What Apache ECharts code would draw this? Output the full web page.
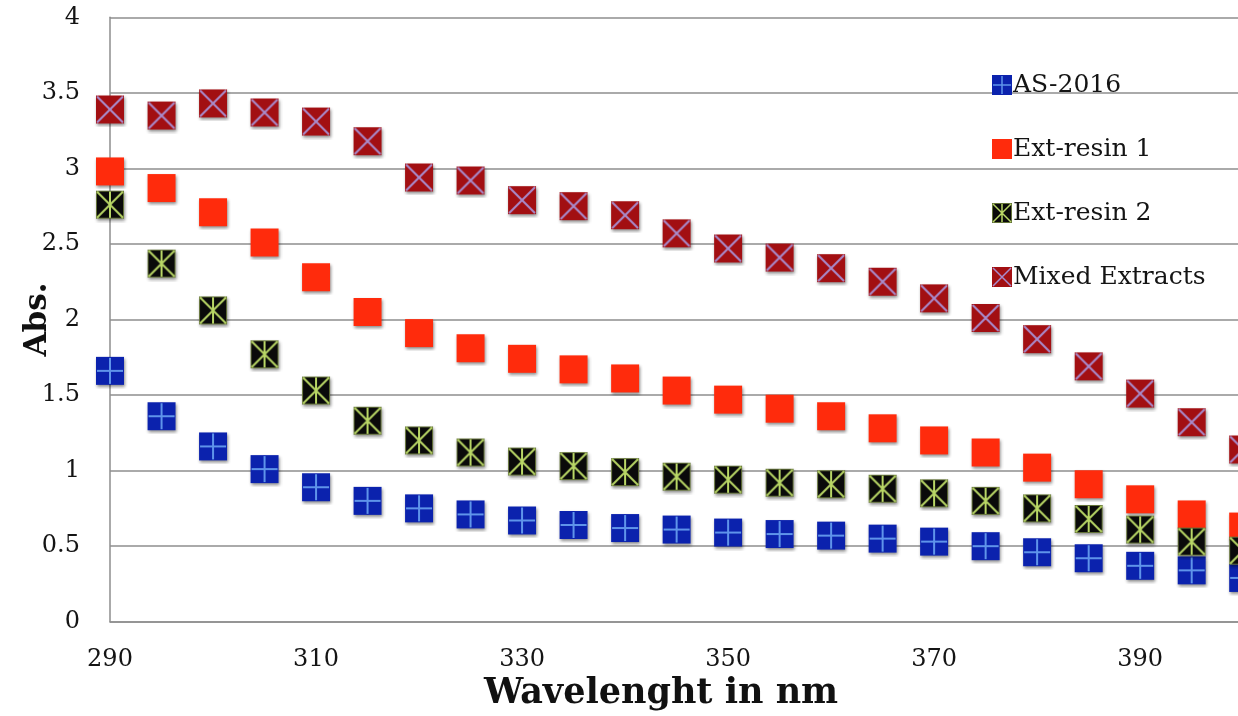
<!DOCTYPE html>
<html>
<head>
<meta charset="utf-8">
<script src="https://cdn.jsdelivr.net/npm/echarts@6/dist/echarts.min.js"></script>
<style>
  html, body { margin: 0; padding: 0; background: #fff; }
  #main { width: 1238px; height: 716px; }
</style>
</head>
<body>
<div id="main"></div>
<script>
var wavelengths = [290, 295, 300, 305, 310, 315, 320, 325, 330, 335, 340, 345,
  350, 355, 360, 365, 370, 375, 380, 385, 390, 395, 400];

var as2016 = [1.66, 1.36, 1.16, 1.01, 0.89, 0.80, 0.75, 0.71, 0.67, 0.64, 0.62, 0.61,
  0.59, 0.58, 0.57, 0.55, 0.53, 0.50, 0.46, 0.42, 0.37, 0.34, 0.29];
var extResin1 = [2.98, 2.87, 2.71, 2.51, 2.28, 2.05, 1.91, 1.81, 1.74, 1.67, 1.61, 1.53,
  1.47, 1.41, 1.36, 1.28, 1.20, 1.12, 1.02, 0.91, 0.81, 0.71, 0.63];
var extResin2 = [2.76, 2.37, 2.06, 1.77, 1.53, 1.33, 1.20, 1.12, 1.06, 1.03, 0.99, 0.96,
  0.94, 0.92, 0.91, 0.88, 0.85, 0.80, 0.75, 0.68, 0.61, 0.53, 0.47];
var mixed = [3.39, 3.35, 3.43, 3.37, 3.31, 3.18, 2.94, 2.92, 2.79, 2.75, 2.69, 2.57,
  2.47, 2.41, 2.34, 2.25, 2.14, 2.01, 1.87, 1.69, 1.51, 1.32, 1.14];

var seriesNames = ['AS-2016', 'Ext-resin 1', 'Ext-resin 2', 'Mixed Extracts'];
var seriesData = [as2016, extResin1, extResin2, mixed];

// marker looks: fill colour, pattern, pattern colour
var markerLooks = [
  { fill: '#0b22ad', kind: 'plus', line: '#5f94ea' },
  { fill: '#ff2b0c', kind: 'none', line: null },
  { fill: '#0a0a0a', kind: 'star', line: '#b9d766' },
  { fill: '#a20f12', kind: 'cross', line: '#a98ccd' }
];

// draws one marker on a small canvas and returns it as an image symbol
function makeMarker(look, sq, pad, shadow) {
  var c = document.createElement('canvas');
  var s = sq + pad * 2;
  c.width = s; c.height = s;
  var ctx = c.getContext('2d');
  if (shadow) {
    ctx.shadowColor = 'rgba(0,0,0,0.45)';
    ctx.shadowBlur = 3;
    ctx.shadowOffsetX = 1;
    ctx.shadowOffsetY = 2;
  }
  ctx.fillStyle = look.fill;
  ctx.fillRect(pad, pad, sq, sq);
  ctx.shadowColor = 'transparent';
  var x0 = pad, y0 = pad, x1 = pad + sq, y1 = pad + sq;
  var cx = pad + sq / 2, cy = pad + sq / 2;
  ctx.strokeStyle = look.line;
  ctx.lineWidth = sq > 24 ? 2 : 1.5;
  ctx.beginPath();
  if (look.kind === 'plus') {
    ctx.moveTo(cx, y0 + 1); ctx.lineTo(cx, y1 - 1);
    ctx.moveTo(x0 + 1, cy); ctx.lineTo(x1 - 1, cy);
  } else if (look.kind === 'cross') {
    ctx.moveTo(x0 + 1, y0 + 1); ctx.lineTo(x1 - 1, y1 - 1);
    ctx.moveTo(x1 - 1, y0 + 1); ctx.lineTo(x0 + 1, y1 - 1);
  } else if (look.kind === 'star') {
    ctx.moveTo(x0 + 1, y0 + 1); ctx.lineTo(x1 - 1, y1 - 1);
    ctx.moveTo(x1 - 1, y0 + 1); ctx.lineTo(x0 + 1, y1 - 1);
    ctx.moveTo(cx, y0 + 1); ctx.lineTo(cx, y1 - 1);
  }
  ctx.stroke();
  if (look.kind === 'star') {
    ctx.strokeStyle = 'rgba(185,215,102,0.5)';
    ctx.lineWidth = 1;
    ctx.strokeRect(x0 + 0.5, y0 + 0.5, sq - 1, sq - 1);
  }
  return 'image://' + c.toDataURL();
}

var myChart = echarts.init(document.getElementById('main'));

var series = seriesNames.map(function (name, i) {
  return {
    name: name,
    type: 'scatter',
    clip: false,
    symbol: makeMarker(markerLooks[i], 28, 4, true),
    symbolSize: 36,
    itemStyle: { opacity: 1 },
    emphasis: { disabled: true },
    data: wavelengths.map(function (w, k) { return [w, seriesData[i][k]]; })
  };
});

var legendData = seriesNames.map(function (name, i) {
  return { name: name, icon: makeMarker(markerLooks[i], 20, 0, false) };
});

var serif = 'DejaVu Serif';

var option = {
  animation: false,
  backgroundColor: '#ffffff',
  grid: {
    left: 110,
    right: 0,
    top: 17.3,
    bottom: 94.3,
    outerBoundsMode: 'none',
    containLabel: false
  },
  legend: {
    orient: 'vertical',
    left: 987,
    top: 67,
    itemWidth: 20,
    itemHeight: 20,
    itemGap: 38,
    data: legendData,
    textStyle: {
      fontFamily: serif,
      fontSize: 25,
      lineHeight: 26,
      color: '#141414',
      padding: [0, 0, 0, -4]
    }
  },
  xAxis: {
    type: 'value',
    min: 290,
    max: 399.5,
    interval: 20,
    name: 'Wavelenght in nm',
    nameLocation: 'middle',
    nameGap: 55,
    nameTextStyle: {
      fontFamily: serif,
      fontSize: 35,
      fontWeight: 'bold',
      color: '#111',
      padding: [0, 26, 0, 0]
    },
    axisLine: { show: true, lineStyle: { color: '#8e8e8e', width: 1.5 } },
    axisTick: { show: false },
    splitLine: { show: false },
    axisLabel: {
      margin: 26,
      fontFamily: serif,
      fontSize: 24,
      color: '#141414',
      formatter: function (v) {
        return (v - 290) % 20 === 0 ? String(v) : '';
      }
    }
  },
  yAxis: {
    type: 'value',
    min: 0,
    max: 4,
    interval: 0.5,
    name: 'Abs.',
    nameLocation: 'middle',
    nameRotate: 90,
    nameGap: 57,
    nameMoveOverlap: false,
    nameTextStyle: {
      fontFamily: serif,
      fontSize: 31,
      fontWeight: 'bold',
      color: '#111'
    },
    axisLine: { show: true, lineStyle: { color: '#8e8e8e', width: 1.5 } },
    axisTick: { show: false },
    splitLine: { show: true, lineStyle: { color: '#8e8e8e', width: 1.5 } },
    axisLabel: {
      margin: 30,
      fontFamily: serif,
      fontSize: 24,
      color: '#141414'
    }
  },
  series: series
};

myChart.setOption(option);
</script>
</body>
</html>
